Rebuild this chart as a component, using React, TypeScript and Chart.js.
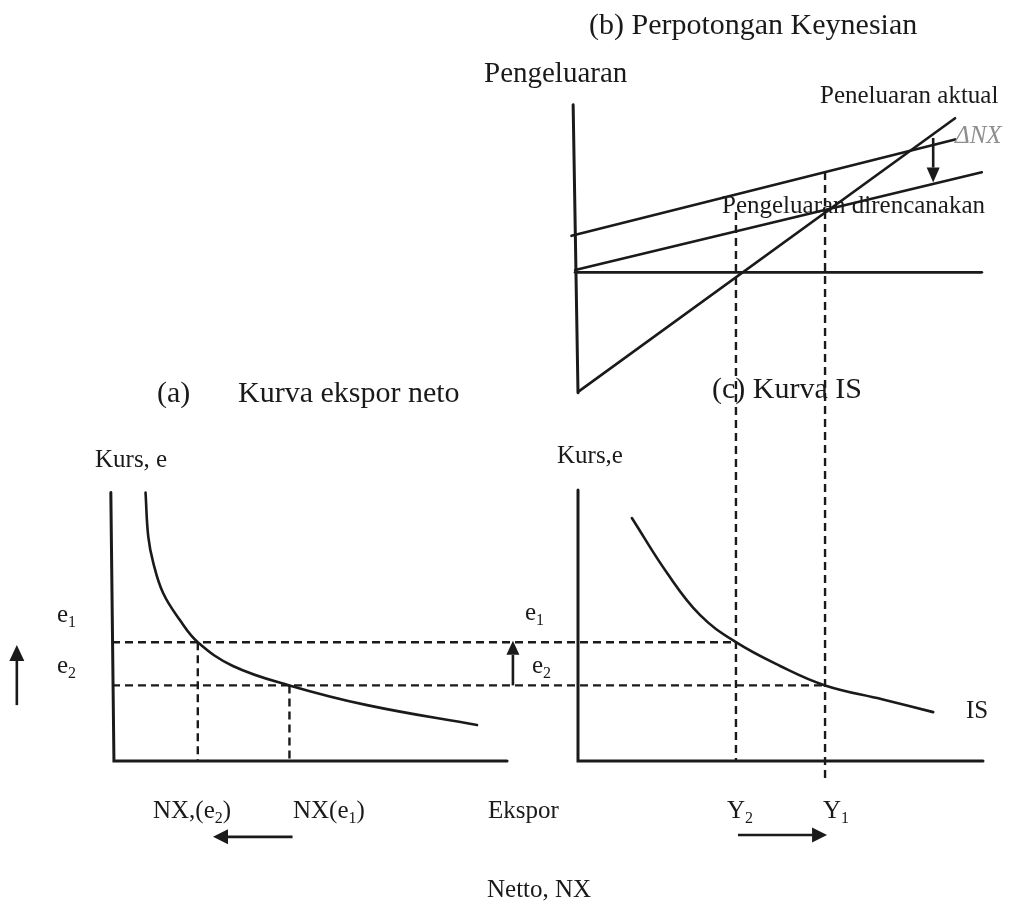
import React, { useEffect, useRef } from "react";
import { Chart, registerables } from "chart.js";

Chart.register(...registerables);

// ---------------- DATA (economic units) ----------------
// (a) Net-export curve NX(e)
const nxCurveNX = [0.86, 0.93, 1.06, 1.31, 1.74, 2.2, 3.1, 4.55, 6.54, 9.36];
const nxCurveE = [9.94, 8.31, 7.33, 6.22, 5.22, 4.4, 3.52, 2.8, 2.07, 1.33];

// (c) IS curve e(Y)
const isCurveY = [1.33, 2.2, 3.01, 3.9, 4.99, 6.1, 7.53, 8.77];
const isCurveE = [9.0, 6.96, 5.41, 4.4, 3.52, 2.8, 2.28, 1.81];

// (b) Keynesian cross: planned expenditure before / after ΔNX, actual expenditure
const plannedBeforeY = [-0.16, 9.31];
const plannedBeforeE = [1.24, 4.52];
const plannedAfterY = [-0.07, 9.97];
const plannedAfterE = [0.08, 3.4];
const actualY = [0.01, 9.31];
const actualE = [-4.06, 5.24];
const baseLineY = [-0.07, 9.97];
const baseLineE = [0, 0];

// Key levels
const e1 = 4.4;
const e2 = 2.8;
const nxAtE1 = 2.2;
const nxAtE2 = 4.55;
const Y2 = 3.9;
const Y1 = 6.1;
const Y2GuideTopE = 2.05;
const Y1GuideBottomE = -0.65;

// Axes
const axisANX = [-0.03, 0.05, 10.13];
const axisAE = [9.94, 0, 0];
const axisBY = [-0.12, 0];
const axisBE = [5.7, -4.1];
const axisCY = [0, 0, 10];
const axisCE = [10.04, 0, 0];

// ---------------- LAYOUT ----------------
const W = 1015;
const H = 902;
const NX_ORIGIN = 112, NX_PPU = 39;
const Y_ORIGIN = 578, Y_PPU = 40.5;
const e_ORIGIN = 761, e_PPU = 27;
const E_ORIGIN = 272.3, E_PPU = 29.4;

const INK = "#1a1a1a";
const FONT = '"Liberation Serif", "Times New Roman", serif';

function xRange(origin: number, ppu: number) {
  return { min: -origin / ppu, max: (W - origin) / ppu };
}
function yRange(origin: number, ppu: number) {
  const min = -(H - origin) / ppu;
  return { min, max: min + H / ppu };
}

function pts(xs: number[], ys: number[]) {
  return xs.map((x, i) => ({ x, y: ys[i] }));
}

function interp(xs: number[], ys: number[], x: number) {
  const t = (x - xs[0]) / (xs[1] - xs[0]);
  return ys[0] + t * (ys[1] - ys[0]);
}

type Part = { t: string; sub?: boolean };

function drawRich(
  ctx: CanvasRenderingContext2D,
  parts: Part[],
  x: number,
  y: number,
  size: number,
  italic = false,
  color = INK
) {
  ctx.save();
  ctx.fillStyle = color;
  ctx.textAlign = "left";
  ctx.textBaseline = "alphabetic";
  let cx = x;
  for (const p of parts) {
    const s = p.sub ? Math.round(size * 0.62) : size;
    ctx.font = `${italic ? "italic " : ""}${s}px ${FONT}`;
    const dy = p.sub ? size * 0.2 : 0;
    ctx.fillText(p.t, cx, y + dy);
    cx += ctx.measureText(p.t).width;
  }
  ctx.restore();
}

function drawArrow(
  ctx: CanvasRenderingContext2D,
  x1: number,
  y1: number,
  x2: number,
  y2: number,
  headLen = 15,
  headW = 13,
  lw = 2.6
) {
  const ang = Math.atan2(y2 - y1, x2 - x1);
  const bx = x2 - headLen * Math.cos(ang);
  const by = y2 - headLen * Math.sin(ang);
  ctx.save();
  ctx.setLineDash([]);
  ctx.strokeStyle = INK;
  ctx.fillStyle = INK;
  ctx.lineWidth = lw;
  ctx.beginPath();
  ctx.moveTo(x1, y1);
  ctx.lineTo(bx, by);
  ctx.stroke();
  const px = -Math.sin(ang) * headW / 2;
  const py = Math.cos(ang) * headW / 2;
  ctx.beginPath();
  ctx.moveTo(x2, y2);
  ctx.lineTo(bx + px, by + py);
  ctx.lineTo(bx - px, by - py);
  ctx.closePath();
  ctx.fill();
  ctx.restore();
}

const labels: { parts: Part[]; x: number; y: number; size: number; italic?: boolean; color?: string }[] = [
  { parts: [{ t: "(b) Perpotongan Keynesian" }], x: 589, y: 34, size: 30 },
  { parts: [{ t: "Pengeluaran" }], x: 484, y: 82, size: 29 },
  { parts: [{ t: "Peneluaran aktual" }], x: 820, y: 103, size: 25 },
  { parts: [{ t: "\u0394NX" }], x: 955, y: 143, size: 25, italic: true, color: "#8e8e8e" },
  { parts: [{ t: "Pengeluaran direncanakan" }], x: 722, y: 213, size: 25 },
  { parts: [{ t: "(a)" }], x: 157, y: 402, size: 30 },
  { parts: [{ t: "Kurva ekspor neto" }], x: 238, y: 402, size: 30 },
  { parts: [{ t: "(c) Kurva IS" }], x: 712, y: 398, size: 30 },
  { parts: [{ t: "Kurs, e" }], x: 95, y: 467, size: 25 },
  { parts: [{ t: "Kurs,e" }], x: 557, y: 463, size: 25 },
  { parts: [{ t: "e" }, { t: "1", sub: true }], x: 57, y: 622, size: 25 },
  { parts: [{ t: "e" }, { t: "2", sub: true }], x: 57, y: 673, size: 25 },
  { parts: [{ t: "e" }, { t: "1", sub: true }], x: 525, y: 620, size: 25 },
  { parts: [{ t: "e" }, { t: "2", sub: true }], x: 532, y: 673, size: 25 },
  { parts: [{ t: "IS" }], x: 966, y: 718, size: 25 },
  { parts: [{ t: "NX,(e" }, { t: "2", sub: true }, { t: ")" }], x: 153, y: 818, size: 25 },
  { parts: [{ t: "NX(e" }, { t: "1", sub: true }, { t: ")" }], x: 293, y: 818, size: 25 },
  { parts: [{ t: "Ekspor" }], x: 488, y: 818, size: 25 },
  { parts: [{ t: "Y" }, { t: "2", sub: true }], x: 727, y: 818, size: 25 },
  { parts: [{ t: "Y" }, { t: "1", sub: true }], x: 823, y: 818, size: 25 },
  { parts: [{ t: "Netto, NX" }], x: 487, y: 897, size: 25 },
];

const guidesPlugin = {
  id: "guides",
  afterDatasetsDraw(chart: any) {
    const ctx: CanvasRenderingContext2D = chart.ctx;
    const xNX = chart.scales.xNX;
    const xY = chart.scales.xY;
    const ye = chart.scales.ye;
    const yE = chart.scales.yE;

    ctx.save();
    ctx.strokeStyle = INK;
    ctx.lineWidth = 2.4;
    ctx.setLineDash([8, 5]);
    const seg = (x1: number, y1: number, x2: number, y2: number) => {
      ctx.beginPath();
      ctx.moveTo(x1, y1);
      ctx.lineTo(x2, y2);
      ctx.stroke();
    };
    // horizontal exchange-rate guides across (a) and (c)
    seg(xNX.getPixelForValue(0), ye.getPixelForValue(e1), xY.getPixelForValue(Y2), ye.getPixelForValue(e1));
    seg(xNX.getPixelForValue(0), ye.getPixelForValue(e2), xY.getPixelForValue(Y1), ye.getPixelForValue(e2));
    // vertical NX guides in (a)
    seg(xNX.getPixelForValue(nxAtE1), ye.getPixelForValue(e1), xNX.getPixelForValue(nxAtE1), ye.getPixelForValue(0));
    seg(xNX.getPixelForValue(nxAtE2), ye.getPixelForValue(e2), xNX.getPixelForValue(nxAtE2), ye.getPixelForValue(0));
    // vertical income guides from (b) down to (c)
    seg(xY.getPixelForValue(Y2), yE.getPixelForValue(Y2GuideTopE), xY.getPixelForValue(Y2), ye.getPixelForValue(0));
    const y1Top = interp(plannedBeforeY, plannedBeforeE, Y1);
    seg(xY.getPixelForValue(Y1), yE.getPixelForValue(y1Top), xY.getPixelForValue(Y1), ye.getPixelForValue(Y1GuideBottomE));
    ctx.restore();

    // arrows
    const shiftY = 8.77;
    drawArrow(
      ctx,
      xY.getPixelForValue(shiftY),
      yE.getPixelForValue(4.57),
      xY.getPixelForValue(shiftY),
      yE.getPixelForValue(interp(plannedAfterY, plannedAfterE, shiftY) + 0.05)
    );
    drawArrow(ctx, xNX.getPixelForValue(-2.44), ye.getPixelForValue(2.07), xNX.getPixelForValue(-2.44), ye.getPixelForValue(4.3), 16, 15);
    drawArrow(ctx, xNX.getPixelForValue(10.28), ye.getPixelForValue(e2), xNX.getPixelForValue(10.28), ye.getPixelForValue(e1 + 0.05), 14, 13);
    drawArrow(ctx, xNX.getPixelForValue(nxAtE2 + 0.08), ye.getPixelForValue(-2.81), xNX.getPixelForValue(2.59), ye.getPixelForValue(-2.81), 15, 15);
    drawArrow(ctx, xY.getPixelForValue(Y2 + 0.05), ye.getPixelForValue(-2.74), xY.getPixelForValue(6.15), ye.getPixelForValue(-2.74), 15, 15);

    for (const l of labels) drawRich(ctx, l.parts, l.x, l.y, l.size, l.italic, l.color);
  },
};

function line(label: string, data: { x: number; y: number }[], xAxisID: string, yAxisID: string, width: number, curved = false) {
  return {
    label,
    data,
    xAxisID,
    yAxisID,
    showLine: true,
    borderColor: INK,
    backgroundColor: INK,
    borderWidth: width,
    pointRadius: 0,
    fill: false,
    tension: curved ? 0.4 : 0,
    borderCapStyle: "round",
    borderJoinStyle: "miter",
  };
}

export default function App() {
  const ref = useRef<HTMLCanvasElement | null>(null);

  useEffect(() => {
    if (!ref.current) return;
    const rNX = xRange(NX_ORIGIN, NX_PPU);
    const rY = xRange(Y_ORIGIN, Y_PPU);
    const re = yRange(e_ORIGIN, e_PPU);
    const rE = yRange(E_ORIGIN, E_PPU);

    const chart = new Chart(ref.current, {
      type: "scatter",
      data: {
        datasets: [
          line("axis a", pts(axisANX, axisAE), "xNX", "ye", 3),
          line("NX", pts(nxCurveNX, nxCurveE), "xNX", "ye", 2.6, true),
          line("axis b", pts(axisBY, axisBE), "xY", "yE", 3),
          line("base", pts(baseLineY, baseLineE), "xY", "yE", 2.8),
          line("planned before", pts(plannedBeforeY, plannedBeforeE), "xY", "yE", 2.6),
          line("planned after", pts(plannedAfterY, plannedAfterE), "xY", "yE", 2.6),
          line("actual", pts(actualY, actualE), "xY", "yE", 2.6),
          line("axis c", pts(axisCY, axisCE), "xY", "ye", 3),
          line("IS", pts(isCurveY, isCurveE), "xY", "ye", 2.6, true),
        ] as any,
      },
      options: {
        animation: false,
        responsive: false,
        maintainAspectRatio: false,
        devicePixelRatio: 1,
        events: [],
        layout: { padding: 0 },
        plugins: { legend: { display: false }, tooltip: { enabled: false }, title: { display: false } },
        scales: {
          xNX: { type: "linear", axis: "x", position: "bottom", display: false, bounds: "data", min: rNX.min, max: rNX.max },
          xY: { type: "linear", axis: "x", position: "bottom", display: false, bounds: "data", min: rY.min, max: rY.max },
          ye: { type: "linear", axis: "y", position: "left", display: false, bounds: "data", min: re.min, max: re.max },
          yE: { type: "linear", axis: "y", position: "left", display: false, bounds: "data", min: rE.min, max: rE.max },
        } as any,
      },
      plugins: [guidesPlugin],
    });
    return () => chart.destroy();
  }, []);

  return (
    <div style={{ position: "absolute", left: 0, top: 0, width: W, height: H, background: "#fff" }}>
      <canvas ref={ref} width={W} height={H} style={{ display: "block", width: W, height: H }} />
    </div>
  );
}
